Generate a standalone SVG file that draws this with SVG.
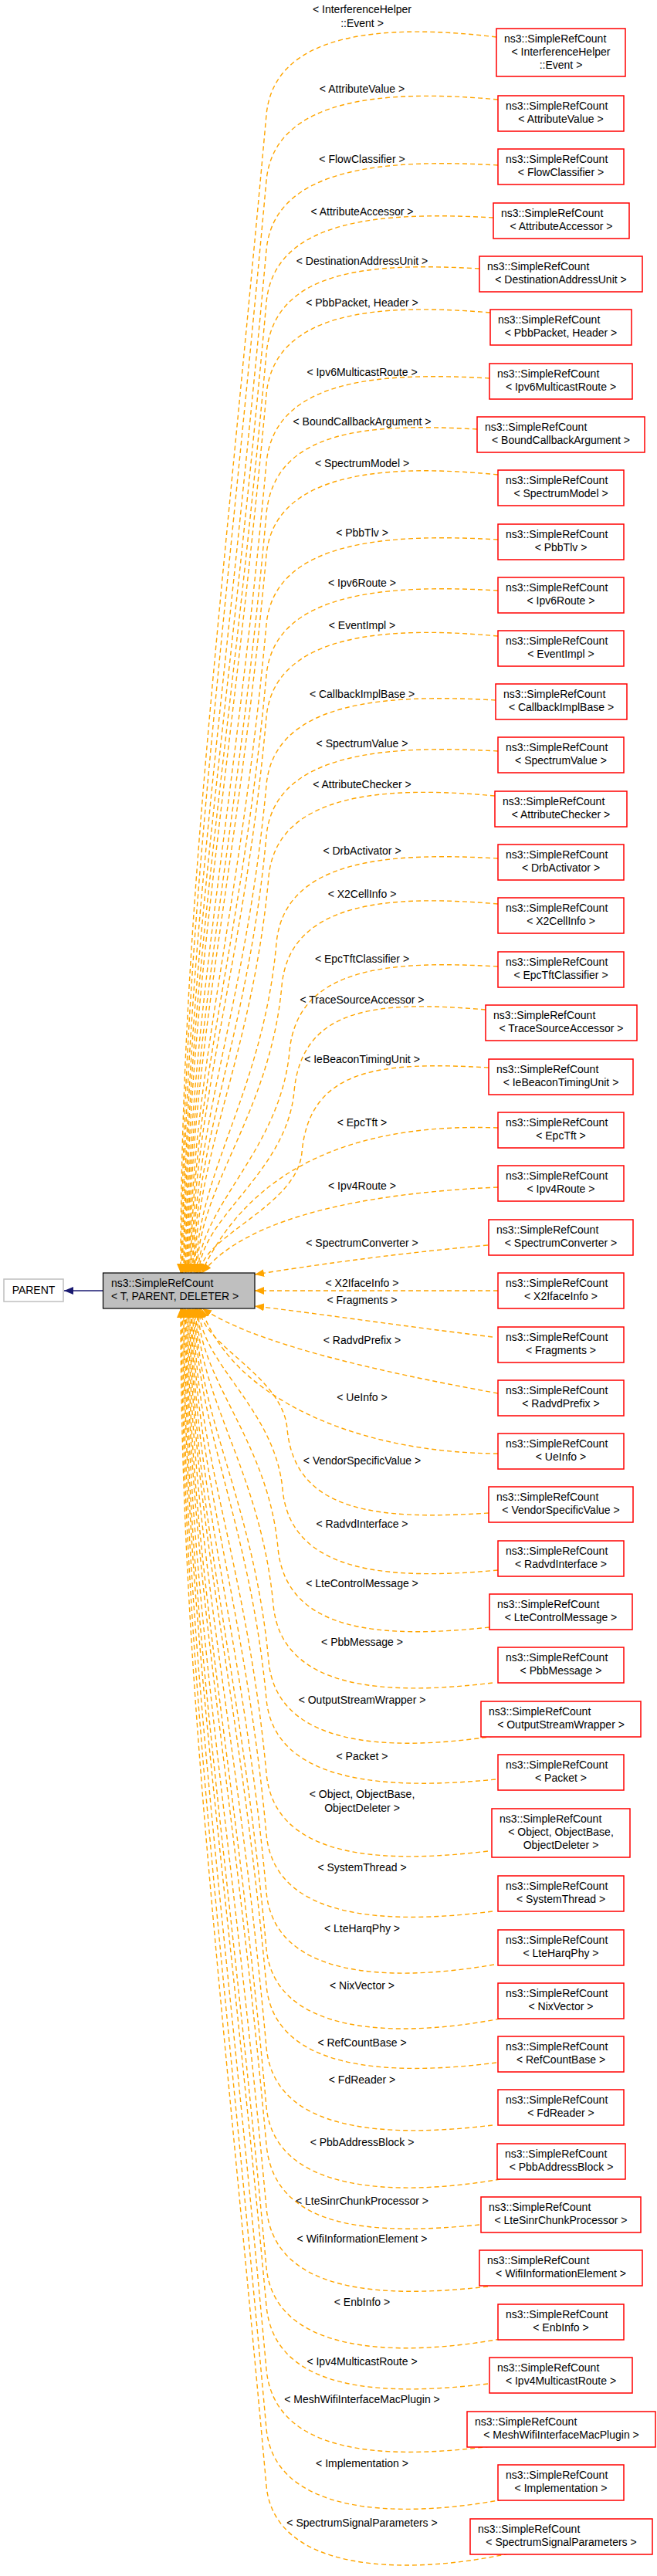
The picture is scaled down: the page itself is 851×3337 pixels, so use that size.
<svg xmlns="http://www.w3.org/2000/svg" width="851" height="3337" viewBox="0 0 851 3337">
<style>
text{font-family:"Liberation Sans",Arial,sans-serif;font-size:14px;fill:#000}
.m{text-anchor:middle}
.n rect{fill:#fff;stroke:#ff0000;stroke-width:1.5}
.e{fill:none;stroke:#ffa500;stroke-width:1.4;stroke-dasharray:6,4;marker-end:url(#oa)}
</style>
<defs>
<marker id="oa" markerUnits="userSpaceOnUse" markerWidth="12" markerHeight="10" viewBox="0 0 12 10" refX="12" refY="5" orient="auto"><path d="M0,0 L12,5 L0,10 z" fill="#ffa500"/></marker>
<marker id="na" markerUnits="userSpaceOnUse" markerWidth="12" markerHeight="10" viewBox="0 0 12 10" refX="12" refY="5" orient="auto"><path d="M0,0 L12,5 L0,10 z" fill="#191970"/></marker>
</defs>
<g id="edges">
<path d="M133,1672 L83,1672" fill="none" stroke="#191970" stroke-width="1.6" marker-end="url(#na)"/>
<path class="e" d="M643,48 C503,31 355,39 345,149 C284,824 234,1199 234,1649"/>
<path class="e" d="M645,129 C505,116 355,124 345,234 C287,871 235.3,1224 235.3,1649"/>
<path class="e" d="M645,214 C505,206 355,214 345,324 C291,920 236.7,1251 236.7,1649"/>
<path class="e" d="M639,282 C499,274 355,282 345,392 C294,958 238,1272 238,1649"/>
<path class="e" d="M621,348 C481,340 355,348 345,458 C296,994 239.3,1292 239.3,1649"/>
<path class="e" d="M635,405 C495,393 355,401 345,511 C298,1023 240.7,1308 240.7,1649"/>
<path class="e" d="M634,490 C494,482 355,490 345,600 C302,1072 242,1334 242,1649"/>
<path class="e" d="M618,556 C478,548 355,556 345,666 C305,1108 243.3,1354 243.3,1649"/>
<path class="e" d="M645,615 C505,601 355,609 345,719 C307,1138 244.7,1370 244.7,1649"/>
<path class="e" d="M645,699 C505,691 355,699 345,809 C311,1187 246,1397 246,1649"/>
<path class="e" d="M645,765 C505,757 355,765 345,875 C313,1223 247.3,1417 247.3,1649"/>
<path class="e" d="M645,824 C505,811 355,819 345,929 C316,1253 248.7,1433 248.7,1649"/>
<path class="e" d="M642,907 C502,899 355,907 345,1017 C319,1301 250,1459 250,1649"/>
<path class="e" d="M645,973 C505,965 355,973 345,1083 C322,1338 251.3,1479 251.3,1649"/>
<path class="e" d="M641,1031 C501,1018 358,1026 348,1136 C327,1367 252.7,1495 252.7,1649"/>
<path class="e" d="M645,1112 C505,1104 368,1112 358,1222 C341,1414 254,1521 254,1649"/>
<path class="e" d="M645,1171 C505,1159 375,1167 365,1277 C350,1444 255.3,1537 255.3,1649"/>
<path class="e" d="M645,1252 C505,1244 385,1252 375,1362 C363,1491 256.7,1563 256.7,1649"/>
<path class="e" d="M629,1308 C489,1296 391,1304 381,1414 C371,1520 258,1578 258,1649"/>
<path class="e" d="M633,1383 C493,1375 401,1383 391,1493 C385,1563 259.3,1602 259.3,1649"/>
<path class="e" d="M645,1461 C480,1455 330,1500 260.7,1649"/>
<path class="e" d="M645,1538 C480,1545 320,1575 262,1649"/>
<path class="e" d="M632,1613 C500,1625 400,1640 330,1651"/>
<path class="e" d="M645,1672 L330,1672"/>
<path class="e" d="M638,1732 C500,1715 400,1700 330,1692"/>
<path class="e" d="M645,1805 C480,1775 330,1740 262,1695"/>
<path class="e" d="M645,1883 C460,1882 300,1810 260.7,1695"/>
<path class="e" d="M633,1960 C493,1969 382,1961 372,1851 C366,1781 259.3,1742 259.3,1695"/>
<path class="e" d="M645,2034 C505,2047 376,2039 366,1929 C356,1824 258,1765 258,1695"/>
<path class="e" d="M634,2108 C494,2123 370,2115 360,2005 C347,1865 256.7,1788 256.7,1695"/>
<path class="e" d="M638,2180 C498,2197 364,2189 354,2079 C338,1906 255.3,1810 255.3,1695"/>
<path class="e" d="M640,2249 C500,2270 358,2262 348,2152 C329,1946 254,1832 254,1695"/>
<path class="e" d="M642,2305 C502,2319 355,2311 345,2201 C324,1973 252.7,1847 252.7,1695"/>
<path class="e" d="M632,2398 C492,2415 355,2407 345,2297 C320,2026 251.3,1876 251.3,1695"/>
<path class="e" d="M638,2476 C498,2494 355,2486 345,2376 C317,2070 250,1899 250,1695"/>
<path class="e" d="M640,2545 C500,2569 355,2561 345,2451 C314,2111 248.7,1922 248.7,1695"/>
<path class="e" d="M648,2615 C508,2642 355,2634 345,2524 C311,2151 247.3,1944 247.3,1695"/>
<path class="e" d="M643,2672 C503,2690 355,2682 345,2572 C309,2177 246,1958 246,1695"/>
<path class="e" d="M638,2753 C498,2770 355,2762 345,2652 C306,2221 244.7,1982 244.7,1695"/>
<path class="e" d="M648,2823 C508,2847 355,2839 345,2729 C303,2264 243.3,2005 243.3,1695"/>
<path class="e" d="M621,2882 C481,2896 355,2888 345,2778 C301,2291 242,2020 242,1695"/>
<path class="e" d="M632,2962 C492,2978 355,2970 345,2860 C297,2336 240.7,2045 240.7,1695"/>
<path class="e" d="M648,3030 C508,3055 355,3047 345,2937 C294,2378 239.3,2068 239.3,1695"/>
<path class="e" d="M632,3088 C492,3105 355,3097 345,2987 C292,2406 238,2083 238,1695"/>
<path class="e" d="M635,3169 C495,3187 355,3179 345,3069 C289,2451 236.7,2107 236.7,1695"/>
<path class="e" d="M651,3238 C511,3264 355,3256 345,3146 C286,2493 235.3,2130 235.3,1695"/>
<path class="e" d="M659,3308 C519,3338 355,3330 345,3220 C283,2534 234,2153 234,1695"/>
</g>
<g id="labels">
<text class="m" x="469" y="17">&lt; InterferenceHelper</text><text class="m" x="469" y="35">::Event &gt;</text>
<text class="m" x="469" y="120">&lt; AttributeValue &gt;</text>
<text class="m" x="469" y="211">&lt; FlowClassifier &gt;</text>
<text class="m" x="469" y="279">&lt; AttributeAccessor &gt;</text>
<text class="m" x="469" y="343">&lt; DestinationAddressUnit &gt;</text>
<text class="m" x="469" y="397">&lt; PbbPacket, Header &gt;</text>
<text class="m" x="469" y="487">&lt; Ipv6MulticastRoute &gt;</text>
<text class="m" x="469" y="551">&lt; BoundCallbackArgument &gt;</text>
<text class="m" x="469" y="605">&lt; SpectrumModel &gt;</text>
<text class="m" x="469" y="695">&lt; PbbTlv &gt;</text>
<text class="m" x="469" y="760">&lt; Ipv6Route &gt;</text>
<text class="m" x="469" y="815">&lt; EventImpl &gt;</text>
<text class="m" x="469" y="904">&lt; CallbackImplBase &gt;</text>
<text class="m" x="469" y="968">&lt; SpectrumValue &gt;</text>
<text class="m" x="469" y="1021">&lt; AttributeChecker &gt;</text>
<text class="m" x="469" y="1107">&lt; DrbActivator &gt;</text>
<text class="m" x="469" y="1163">&lt; X2CellInfo &gt;</text>
<text class="m" x="469" y="1247">&lt; EpcTftClassifier &gt;</text>
<text class="m" x="469" y="1300">&lt; TraceSourceAccessor &gt;</text>
<text class="m" x="469" y="1377">&lt; IeBeaconTimingUnit &gt;</text>
<text class="m" x="469" y="1459">&lt; EpcTft &gt;</text>
<text class="m" x="469" y="1541">&lt; Ipv4Route &gt;</text>
<text class="m" x="469" y="1615">&lt; SpectrumConverter &gt;</text>
<text class="m" x="469" y="1667">&lt; X2IfaceInfo &gt;</text>
<text class="m" x="469" y="1689">&lt; Fragments &gt;</text>
<text class="m" x="469" y="1741">&lt; RadvdPrefix &gt;</text>
<text class="m" x="469" y="1815">&lt; UeInfo &gt;</text>
<text class="m" x="469" y="1897">&lt; VendorSpecificValue &gt;</text>
<text class="m" x="469" y="1979">&lt; RadvdInterface &gt;</text>
<text class="m" x="469" y="2056">&lt; LteControlMessage &gt;</text>
<text class="m" x="469" y="2132">&lt; PbbMessage &gt;</text>
<text class="m" x="469" y="2207">&lt; OutputStreamWrapper &gt;</text>
<text class="m" x="469" y="2280">&lt; Packet &gt;</text>
<text class="m" x="469" y="2329">&lt; Object, ObjectBase,</text><text class="m" x="469" y="2347">ObjectDeleter &gt;</text>
<text class="m" x="469" y="2424">&lt; SystemThread &gt;</text>
<text class="m" x="469" y="2503">&lt; LteHarqPhy &gt;</text>
<text class="m" x="469" y="2577">&lt; NixVector &gt;</text>
<text class="m" x="469" y="2651">&lt; RefCountBase &gt;</text>
<text class="m" x="469" y="2699">&lt; FdReader &gt;</text>
<text class="m" x="469" y="2780">&lt; PbbAddressBlock &gt;</text>
<text class="m" x="469" y="2856">&lt; LteSinrChunkProcessor &gt;</text>
<text class="m" x="469" y="2905">&lt; WifiInformationElement &gt;</text>
<text class="m" x="469" y="2987">&lt; EnbInfo &gt;</text>
<text class="m" x="469" y="3064">&lt; Ipv4MulticastRoute &gt;</text>
<text class="m" x="469" y="3113">&lt; MeshWifiInterfaceMacPlugin &gt;</text>
<text class="m" x="469" y="3196">&lt; Implementation &gt;</text>
<text class="m" x="469" y="3273">&lt; SpectrumSignalParameters &gt;</text>
</g>
<g id="parent"><rect x="5" y="1657" width="77" height="29" fill="#fff" stroke="#bfbfbf" stroke-width="1.5"/><text class="m" x="43.5" y="1676">PARENT</text></g>
<g id="main"><rect x="133.5" y="1649" width="196.5" height="46" fill="#bfbfbf" stroke="#000" stroke-width="1.2"/><text x="144" y="1667">ns3::SimpleRefCount</text><text x="144" y="1684">&lt; T, PARENT, DELETER &gt;</text></g>
<g id="n1" class="n"><rect x="643" y="37" width="167" height="62"/><text x="653" y="55">ns3::SimpleRefCount</text><text class="m" x="726.5" y="72">&lt; InterferenceHelper</text><text class="m" x="726.5" y="89">::Event &gt;</text></g>
<g id="n2" class="n"><rect x="645" y="124" width="163" height="46"/><text x="655" y="142">ns3::SimpleRefCount</text><text class="m" x="726.5" y="159">&lt; AttributeValue &gt;</text></g>
<g id="n3" class="n"><rect x="645" y="193" width="163" height="46"/><text x="655" y="211">ns3::SimpleRefCount</text><text class="m" x="726.5" y="228">&lt; FlowClassifier &gt;</text></g>
<g id="n4" class="n"><rect x="639" y="263" width="176" height="46"/><text x="649" y="281">ns3::SimpleRefCount</text><text class="m" x="727" y="298">&lt; AttributeAccessor &gt;</text></g>
<g id="n5" class="n"><rect x="621" y="332" width="211" height="46"/><text x="631" y="350">ns3::SimpleRefCount</text><text class="m" x="726.5" y="367">&lt; DestinationAddressUnit &gt;</text></g>
<g id="n6" class="n"><rect x="635" y="401" width="183" height="46"/><text x="645" y="419">ns3::SimpleRefCount</text><text class="m" x="726.5" y="436">&lt; PbbPacket, Header &gt;</text></g>
<g id="n7" class="n"><rect x="634" y="471" width="185" height="46"/><text x="644" y="489">ns3::SimpleRefCount</text><text class="m" x="726.5" y="506">&lt; Ipv6MulticastRoute &gt;</text></g>
<g id="n8" class="n"><rect x="618" y="540" width="217" height="46"/><text x="628" y="558">ns3::SimpleRefCount</text><text class="m" x="726.5" y="575">&lt; BoundCallbackArgument &gt;</text></g>
<g id="n9" class="n"><rect x="645" y="609" width="163" height="46"/><text x="655" y="627">ns3::SimpleRefCount</text><text class="m" x="726.5" y="644">&lt; SpectrumModel &gt;</text></g>
<g id="n10" class="n"><rect x="645" y="679" width="163" height="46"/><text x="655" y="697">ns3::SimpleRefCount</text><text class="m" x="726.5" y="714">&lt; PbbTlv &gt;</text></g>
<g id="n11" class="n"><rect x="645" y="748" width="163" height="46"/><text x="655" y="766">ns3::SimpleRefCount</text><text class="m" x="726.5" y="783">&lt; Ipv6Route &gt;</text></g>
<g id="n12" class="n"><rect x="645" y="817" width="163" height="46"/><text x="655" y="835">ns3::SimpleRefCount</text><text class="m" x="726.5" y="852">&lt; EventImpl &gt;</text></g>
<g id="n13" class="n"><rect x="642" y="886" width="170" height="46"/><text x="652" y="904">ns3::SimpleRefCount</text><text class="m" x="727" y="921">&lt; CallbackImplBase &gt;</text></g>
<g id="n14" class="n"><rect x="645" y="955" width="163" height="46"/><text x="655" y="973">ns3::SimpleRefCount</text><text class="m" x="726.5" y="990">&lt; SpectrumValue &gt;</text></g>
<g id="n15" class="n"><rect x="641" y="1025" width="171" height="46"/><text x="651" y="1043">ns3::SimpleRefCount</text><text class="m" x="726.5" y="1060">&lt; AttributeChecker &gt;</text></g>
<g id="n16" class="n"><rect x="645" y="1094" width="163" height="46"/><text x="655" y="1112">ns3::SimpleRefCount</text><text class="m" x="726.5" y="1129">&lt; DrbActivator &gt;</text></g>
<g id="n17" class="n"><rect x="645" y="1163" width="163" height="46"/><text x="655" y="1181">ns3::SimpleRefCount</text><text class="m" x="726.5" y="1198">&lt; X2CellInfo &gt;</text></g>
<g id="n18" class="n"><rect x="645" y="1233" width="163" height="46"/><text x="655" y="1251">ns3::SimpleRefCount</text><text class="m" x="726.5" y="1268">&lt; EpcTftClassifier &gt;</text></g>
<g id="n19" class="n"><rect x="629" y="1302" width="196" height="46"/><text x="639" y="1320">ns3::SimpleRefCount</text><text class="m" x="727" y="1337">&lt; TraceSourceAccessor &gt;</text></g>
<g id="n20" class="n"><rect x="633" y="1372" width="187" height="46"/><text x="643" y="1390">ns3::SimpleRefCount</text><text class="m" x="726.5" y="1407">&lt; IeBeaconTimingUnit &gt;</text></g>
<g id="n21" class="n"><rect x="645" y="1441" width="163" height="46"/><text x="655" y="1459">ns3::SimpleRefCount</text><text class="m" x="726.5" y="1476">&lt; EpcTft &gt;</text></g>
<g id="n22" class="n"><rect x="645" y="1510" width="163" height="46"/><text x="655" y="1528">ns3::SimpleRefCount</text><text class="m" x="726.5" y="1545">&lt; Ipv4Route &gt;</text></g>
<g id="n23" class="n"><rect x="633" y="1580" width="187" height="46"/><text x="643" y="1598">ns3::SimpleRefCount</text><text class="m" x="726.5" y="1615">&lt; SpectrumConverter &gt;</text></g>
<g id="n24" class="n"><rect x="645" y="1649" width="163" height="46"/><text x="655" y="1667">ns3::SimpleRefCount</text><text class="m" x="726.5" y="1684">&lt; X2IfaceInfo &gt;</text></g>
<g id="n25" class="n"><rect x="645" y="1719" width="163" height="46"/><text x="655" y="1737">ns3::SimpleRefCount</text><text class="m" x="726.5" y="1754">&lt; Fragments &gt;</text></g>
<g id="n26" class="n"><rect x="645" y="1788" width="163" height="46"/><text x="655" y="1806">ns3::SimpleRefCount</text><text class="m" x="726.5" y="1823">&lt; RadvdPrefix &gt;</text></g>
<g id="n27" class="n"><rect x="645" y="1857" width="163" height="46"/><text x="655" y="1875">ns3::SimpleRefCount</text><text class="m" x="726.5" y="1892">&lt; UeInfo &gt;</text></g>
<g id="n28" class="n"><rect x="633" y="1926" width="187" height="46"/><text x="643" y="1944">ns3::SimpleRefCount</text><text class="m" x="726.5" y="1961">&lt; VendorSpecificValue &gt;</text></g>
<g id="n29" class="n"><rect x="645" y="1996" width="163" height="46"/><text x="655" y="2014">ns3::SimpleRefCount</text><text class="m" x="726.5" y="2031">&lt; RadvdInterface &gt;</text></g>
<g id="n30" class="n"><rect x="634" y="2065" width="185" height="46"/><text x="644" y="2083">ns3::SimpleRefCount</text><text class="m" x="726.5" y="2100">&lt; LteControlMessage &gt;</text></g>
<g id="n31" class="n"><rect x="645" y="2134" width="163" height="46"/><text x="655" y="2152">ns3::SimpleRefCount</text><text class="m" x="726.5" y="2169">&lt; PbbMessage &gt;</text></g>
<g id="n32" class="n"><rect x="623" y="2204" width="207" height="46"/><text x="633" y="2222">ns3::SimpleRefCount</text><text class="m" x="726.5" y="2239">&lt; OutputStreamWrapper &gt;</text></g>
<g id="n33" class="n"><rect x="645" y="2273" width="163" height="46"/><text x="655" y="2291">ns3::SimpleRefCount</text><text class="m" x="726.5" y="2308">&lt; Packet &gt;</text></g>
<g id="n34" class="n"><rect x="637" y="2343" width="179" height="63"/><text x="647" y="2361">ns3::SimpleRefCount</text><text class="m" x="726.5" y="2378">&lt; Object, ObjectBase,</text><text class="m" x="726.5" y="2395">ObjectDeleter &gt;</text></g>
<g id="n35" class="n"><rect x="645" y="2430" width="163" height="46"/><text x="655" y="2448">ns3::SimpleRefCount</text><text class="m" x="726.5" y="2465">&lt; SystemThread &gt;</text></g>
<g id="n36" class="n"><rect x="645" y="2500" width="163" height="46"/><text x="655" y="2518">ns3::SimpleRefCount</text><text class="m" x="726.5" y="2535">&lt; LteHarqPhy &gt;</text></g>
<g id="n37" class="n"><rect x="645" y="2569" width="163" height="46"/><text x="655" y="2587">ns3::SimpleRefCount</text><text class="m" x="726.5" y="2604">&lt; NixVector &gt;</text></g>
<g id="n38" class="n"><rect x="645" y="2638" width="163" height="46"/><text x="655" y="2656">ns3::SimpleRefCount</text><text class="m" x="726.5" y="2673">&lt; RefCountBase &gt;</text></g>
<g id="n39" class="n"><rect x="645" y="2707" width="163" height="46"/><text x="655" y="2725">ns3::SimpleRefCount</text><text class="m" x="726.5" y="2742">&lt; FdReader &gt;</text></g>
<g id="n40" class="n"><rect x="644" y="2777" width="166" height="46"/><text x="654" y="2795">ns3::SimpleRefCount</text><text class="m" x="727" y="2812">&lt; PbbAddressBlock &gt;</text></g>
<g id="n41" class="n"><rect x="623" y="2846" width="207" height="46"/><text x="633" y="2864">ns3::SimpleRefCount</text><text class="m" x="726.5" y="2881">&lt; LteSinrChunkProcessor &gt;</text></g>
<g id="n42" class="n"><rect x="621" y="2915" width="211" height="46"/><text x="631" y="2933">ns3::SimpleRefCount</text><text class="m" x="726.5" y="2950">&lt; WifiInformationElement &gt;</text></g>
<g id="n43" class="n"><rect x="645" y="2985" width="163" height="46"/><text x="655" y="3003">ns3::SimpleRefCount</text><text class="m" x="726.5" y="3020">&lt; EnbInfo &gt;</text></g>
<g id="n44" class="n"><rect x="634" y="3054" width="185" height="46"/><text x="644" y="3072">ns3::SimpleRefCount</text><text class="m" x="726.5" y="3089">&lt; Ipv4MulticastRoute &gt;</text></g>
<g id="n45" class="n"><rect x="605" y="3124" width="244" height="46"/><text x="615" y="3142">ns3::SimpleRefCount</text><text class="m" x="727" y="3159">&lt; MeshWifiInterfaceMacPlugin &gt;</text></g>
<g id="n46" class="n"><rect x="645" y="3193" width="163" height="46"/><text x="655" y="3211">ns3::SimpleRefCount</text><text class="m" x="726.5" y="3228">&lt; Implementation &gt;</text></g>
<g id="n47" class="n"><rect x="609" y="3263" width="236" height="46"/><text x="619" y="3281">ns3::SimpleRefCount</text><text class="m" x="727" y="3298">&lt; SpectrumSignalParameters &gt;</text></g>
</svg>
